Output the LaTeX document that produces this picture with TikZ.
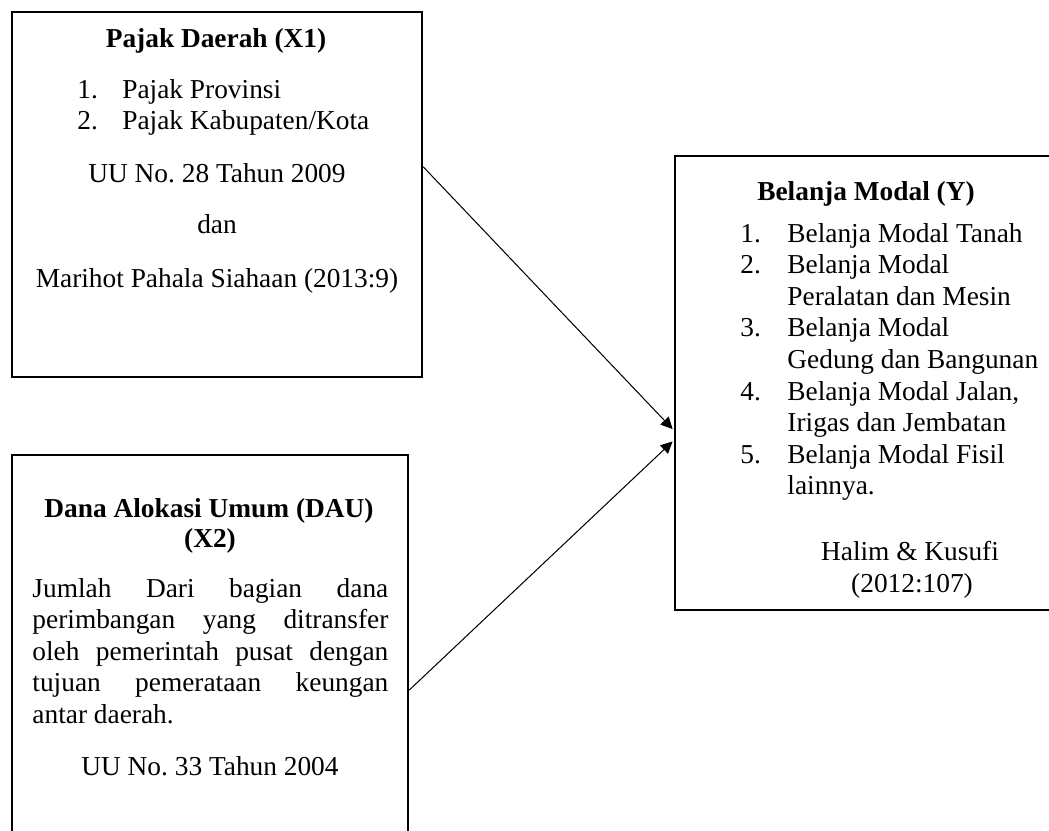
\documentclass[tikz,border=0pt]{standalone}
\usepackage{fontspec}
\setmainfont{Liberation Serif}
\usetikzlibrary{arrows.meta, fit, calc}
\frenchspacing

\tikzset{
  box/.style={draw, line width=1.1pt, inner sep=0pt},
  txt/.style={anchor=base, inner sep=0pt, font=\fontsize{12}{13.86}\selectfont},
  head/.style={txt, font=\fontsize{12}{13.86}\selectfont\bfseries},
  lst/.style={txt, anchor=base west},
  link/.style={->, line width=0.45pt, shorten >=0.7pt}
}

\begin{document}
\begin{tikzpicture}[x=0.4386pt, y=-0.4386pt, >={Triangle[length=5.2pt, width=5pt]}]

  \useasboundingbox (0, 0) rectangle (1049, 830);
  \clip (0, 0) rectangle (1049, 830);

  % Pajak Daerah (X1)
  \node[box, fit={(12, 12) (422, 377)}] (pd) {};
  \node[head] (pdhead) at (216, 47) {Pajak Daerah (X1)};
  \node[lst] (pdlist) at (77, 98) {\begin{tabular}[t]{@{}p{19.7pt}@{}l@{}}
      1. & Pajak Provinsi\\
      2. & Pajak Kabupaten/Kota
    \end{tabular}};
  \node[txt] (pduu) at (217, 182) {UU No. 28 Tahun 2009};
  \node[txt] (pddan) at (217, 233) {dan};
  \node[txt] (pdref) at (217, 287) {Marihot Pahala Siahaan (2013:9)};

  % Dana Alokasi Umum (X2)
  \node[box, fit={(12, 455) (408, 870)}] (dau) {};
  \node[head] (dauhead) at (209, 517) {Dana Alokasi Umum (DAU)};
  \node[head] (dauhead2) at (210, 547) {(X2)};
  \node[lst, text width=156.1pt, align=justify] (dautext) at (32, 597)
    {\hyphenpenalty=10000 \hbadness=10000
     Jumlah Dari bagian dana\linebreak
     perimbangan yang ditransfer\linebreak
     oleh pemerintah pusat dengan\linebreak
     tujuan pemerataan keungan\linebreak
     antar daerah.};
  \node[txt] (dauuu) at (210, 775) {UU No. 33 Tahun 2004};

  % Belanja Modal (Y)
  \node[box, fit={(675, 156) (1070, 610)}] (bm) {};
  \node[head] (bmhead) at (866, 200) {Belanja Modal (Y)};
  \node[lst] (bmlist) at (740, 242) {\begin{tabular}[t]{@{}p{20.6pt}@{}l@{}}
      1. & Belanja Modal Tanah\\
      2. & Belanja Modal\\
         & Peralatan dan Mesin\\
      3. & Belanja Modal\\
         & Gedung dan Bangunan\\
      4. & Belanja Modal Jalan,\\
         & Irigas dan Jembatan\\
      5. & Belanja Modal Fisil\\
         & lainnya.
    \end{tabular}};
  \node[txt] (bmref) at (910, 560) {Halim \& Kusufi};
  \node[txt] (bmref2) at (912, 592) {(2012:107)};

  \draw[link] ($(pd.north east)!0.4247!(pd.south east)$) -- ($(bm.north west)!0.6035!(bm.south west)$);
  \draw[link] ($(dau.north east)!0.566!(dau.south east)$) -- ($(bm.north west)!0.6256!(bm.south west)$);

\end{tikzpicture}
\end{document}
